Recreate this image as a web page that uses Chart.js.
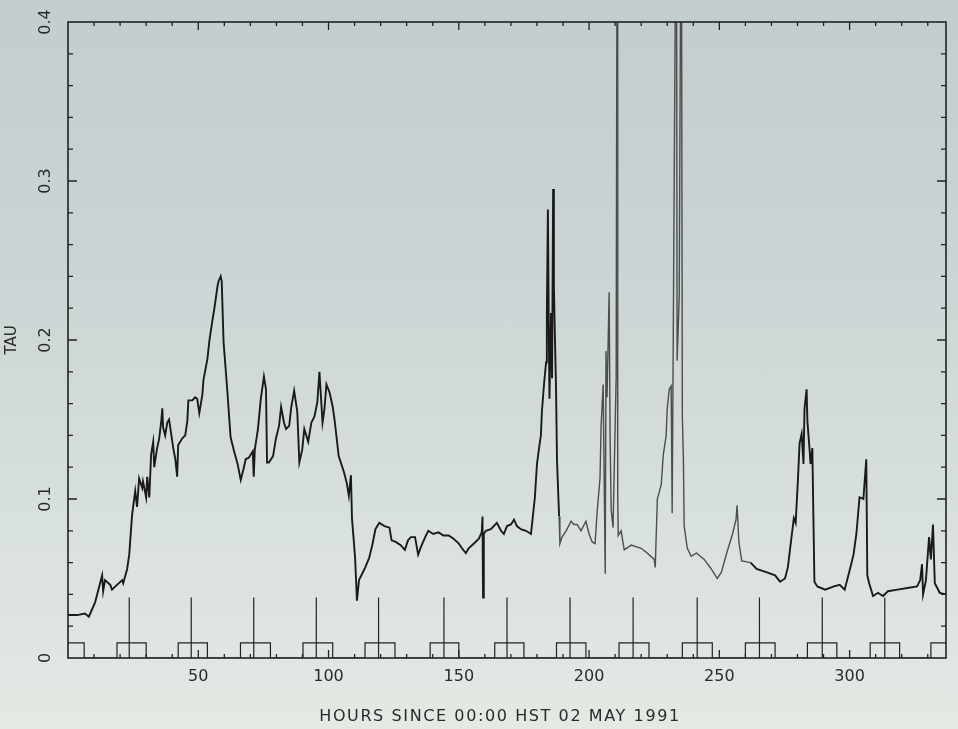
<!DOCTYPE html>
<html>
<head>
<meta charset="utf-8">
<title>TAU</title>
<script src="https://cdn.jsdelivr.net/npm/chart.js@4.4.0/dist/chart.umd.min.js"></script>
<style>
  html, body { margin: 0; padding: 0; }
  body {
    width: 958px; height: 729px; overflow: hidden;
    background: linear-gradient(to bottom, #c3cdce 0%, #cad4d4 35%, #d8e0dd 70%, #e4e9e4 100%);
  }
  #wrap { position: relative; width: 958px; height: 729px; }
</style>
</head>
<body>
<div id="wrap"><canvas id="tauChart"></canvas></div>
<script>
// opacity trace (hours since 00:00 HST 02 May 1991)
const hours = [
  0, 3.5, 6.5, 8.0, 10.4, 13.1, 13.5, 14.2, 16.2, 16.9,
  18.8, 20.8, 21.2, 22.7, 23.5, 24.6, 25.8, 26.5, 27.3, 28.5,
  28.8, 30.0, 30.4, 31.2, 31.9, 32.7, 33.1, 34.2, 35.0, 35.8,
  36.2, 36.5, 37.3, 38.1, 38.8, 39.6, 40.4, 41.2, 41.9, 42.3,
  43.8, 45.0, 45.8, 46.2, 47.7, 48.8, 49.6, 50.4, 51.6, 52.0,
  53.5, 54.3, 55.4, 56.2, 57.4, 57.8, 58.6, 59.0, 59.7, 61.2,
  62.4, 63.6, 65.1, 66.3, 67.4, 68.2, 69.4, 70.9, 71.3, 71.7,
  72.9, 74.0, 75.2, 76.0, 76.4, 77.1, 78.7, 79.8, 81.0, 81.8,
  82.9, 83.7, 84.9, 85.7, 86.8, 88.0, 88.8, 89.9, 90.7, 92.2,
  93.4, 94.6, 95.7, 96.5, 97.7, 98.4, 99.2, 100.4, 101.6, 102.3,
  103.9, 105.9, 107.0, 107.8, 108.6,
  109.0, 110.2, 110.9, 111.7, 112.9, 114.1, 115.6, 116.8, 118.0, 119.5,
  121.5, 123.4, 124.2, 125.8, 127.7, 129.3, 130.5, 131.6, 133.2, 134.4,
  135.5, 137.1, 138.3, 140.2, 142.2, 144.1, 146.1, 148.0, 150.0, 151.2,
  152.7, 153.8, 155.8, 157.7, 158.8, 159.1, 159.3, 159.6, 160.4, 162.3,
  164.6, 166.2, 167.3, 168.5, 170.0, 171.2, 172.3, 173.8, 175.8, 177.7,
  178.1, 179.2, 180.0, 180.8, 181.5, 181.9, 182.7, 183.5, 183.8, 184.2,
  184.6, 184.8, 185.4, 185.8, 186.2, 186.5, 186.9, 187.3, 187.7, 188.5,
  188.8, 189.6, 191.2, 193.1, 194.2, 195.4, 196.9, 198.8, 200.0, 201.2,
  202.3, 203.1, 204.2, 204.6, 205.4, 206.2, 206.5, 206.9, 207.7, 208.1,
  208.5, 209.2, 210.4, 210.8, 211.0, 211.2, 212.3, 213.5,
  216.2, 220.0, 222.3, 225.0, 225.4, 226.2, 227.7, 228.5, 229.6, 230.0,
  230.8, 231.5, 231.9, 233.5, 233.8, 234.6, 235.4, 235.8, 236.2, 236.5,
  237.7, 239.2, 241.2,
  244.2, 246.9, 249.2, 250.8, 253.0, 254.9, 256.4, 256.8, 257.5, 258.6,
  262.0, 264.3, 268.0, 271.4, 273.3, 275.2, 276.3, 277.4, 278.6, 279.3,
  280.1, 280.8, 281.6, 282.3, 282.7, 283.5, 283.8, 284.6, 285.0, 285.7,
  286.1, 286.5, 287.6, 290.6, 294.0, 296.2, 298.1, 300.0, 301.5, 302.6,
  303.8, 305.3, 305.6, 306.4, 306.8, 307.5, 309.0, 310.9, 312.8, 314.7,
  318.4, 322.2, 325.9, 327.1, 327.8, 328.2, 329.3, 330.5, 331.2, 332.0,
  332.7, 334.6, 337.0
];
const tau = [
  0.027, 0.027, 0.028, 0.026, 0.035, 0.052, 0.042, 0.049, 0.046, 0.043,
  0.046, 0.049, 0.047, 0.056, 0.065, 0.090, 0.105, 0.095, 0.113, 0.107,
  0.111, 0.101, 0.114, 0.101, 0.128, 0.136, 0.120, 0.132, 0.138, 0.149,
  0.157, 0.145, 0.140, 0.148, 0.150, 0.141, 0.132, 0.125, 0.114, 0.134,
  0.138, 0.140, 0.149, 0.162, 0.162, 0.164, 0.163, 0.154, 0.166, 0.175,
  0.188, 0.200, 0.212, 0.220, 0.234, 0.237, 0.240, 0.237, 0.199, 0.167,
  0.139, 0.131, 0.122, 0.112, 0.119, 0.125, 0.126, 0.130, 0.114, 0.131,
  0.144, 0.163, 0.177, 0.169, 0.123, 0.123, 0.127, 0.138, 0.146, 0.158,
  0.148, 0.144, 0.146, 0.158, 0.168, 0.155, 0.123, 0.131, 0.144, 0.136,
  0.148, 0.152, 0.161, 0.180, 0.148, 0.156, 0.172, 0.167, 0.158, 0.150,
  0.127, 0.117, 0.110, 0.102, 0.115,
  0.088, 0.063, 0.036, 0.049, 0.053, 0.057, 0.063, 0.071, 0.081, 0.085,
  0.083, 0.082, 0.074, 0.073, 0.071, 0.068, 0.074, 0.076, 0.076, 0.065,
  0.070, 0.076, 0.080, 0.078, 0.079, 0.077, 0.077, 0.075, 0.072, 0.069,
  0.066, 0.069, 0.072, 0.075, 0.079, 0.089, 0.038, 0.078, 0.080, 0.081,
  0.085, 0.080, 0.078, 0.083, 0.084, 0.087, 0.083, 0.081, 0.080, 0.078,
  0.084, 0.101, 0.122, 0.132, 0.140, 0.155, 0.172, 0.186, 0.217, 0.282,
  0.196, 0.163, 0.217, 0.176, 0.295, 0.234, 0.201, 0.172, 0.124, 0.089,
  0.072, 0.076, 0.080, 0.086, 0.084, 0.084, 0.080, 0.086, 0.078, 0.073,
  0.072, 0.092, 0.113, 0.145, 0.172, 0.053, 0.193, 0.164, 0.230, 0.135,
  0.093, 0.082, 0.177, 0.520, 0.102, 0.077, 0.080, 0.068,
  0.071, 0.069, 0.066, 0.062, 0.057, 0.100, 0.109, 0.128, 0.140, 0.157,
  0.169, 0.171, 0.091, 0.520, 0.187, 0.227, 0.520, 0.152, 0.126, 0.083,
  0.069, 0.064, 0.066,
  0.062, 0.056, 0.050, 0.054, 0.067, 0.077, 0.087, 0.096, 0.073, 0.061,
  0.060, 0.056, 0.054, 0.052, 0.048, 0.050, 0.057, 0.072, 0.088, 0.085,
  0.110, 0.135, 0.141, 0.122, 0.157, 0.169, 0.149, 0.132, 0.122, 0.132,
  0.089, 0.048, 0.045, 0.043, 0.045, 0.046, 0.043, 0.055, 0.065, 0.078,
  0.101, 0.100, 0.107, 0.125, 0.052, 0.047, 0.039, 0.041, 0.039, 0.042,
  0.043, 0.044, 0.045, 0.049, 0.059, 0.040, 0.049, 0.076, 0.062, 0.084,
  0.047, 0.041, 0.040
];

// daily marker boxes along the bottom (hours)
const boxStart = [-5, 18.8, 42.3, 66.2, 90.2, 114, 139, 163.8, 187.5, 211.5, 235.8, 260, 283.8, 307.9, 331.2];
const boxEnd   = [6.2, 30, 53.5, 77.7, 101.6, 125.5, 150, 175, 198.8, 223, 247.3, 271.4, 295.1, 319.2, 342.5];
const markHour = [null, 23.5, 47.3, 71.3, 95.3, 119.2, 144.3, 168.5, 192.7, 216.9, 241.5, 265.4, 289.5, 313.5, null];
const boxTop = 0.0095;
const markTop = 0.038;

const xMin = 0, xMax = 337;
const xTickValues = [50, 100, 150, 200, 250, 300];
const yTickValues = [0, 0.1, 0.2, 0.3, 0.4];
const yTickLabels = ['0', '0.1', '0.2', '0.3', '0.4'];
const xTitle = 'HOURS SINCE 00:00 HST 02 MAY 1991';
const yTitle = 'TAU';

const ink = '#222';

const tauPoints = hours.map((h, i) => ({ x: h, y: tau[i] }));

const boxPoints = [];
boxStart.forEach((s, i) => {
  const e = boxEnd[i], m = markHour[i];
  boxPoints.push({ x: s, y: 0 }, { x: s, y: boxTop });
  if (m !== null) {
    boxPoints.push({ x: m, y: boxTop }, { x: m, y: markTop }, { x: m, y: 0 }, { x: m, y: boxTop });
  }
  boxPoints.push({ x: e, y: boxTop }, { x: e, y: 0 });
});

// frame with inward ticks, rotated y labels and the spaced x title
const framePlugin = {
  id: 'frame',
  afterDatasetsDraw(chart) {
    const { ctx, chartArea: a, scales: { x, y } } = chart;
    ctx.save();
    ctx.strokeStyle = ink;
    ctx.lineWidth = 1.6;
    ctx.strokeRect(a.left, a.top, a.right - a.left, a.bottom - a.top);

    ctx.lineWidth = 1.3;
    ctx.beginPath();
    for (let h = 10; h < xMax; h += 10) {
      const px = x.getPixelForValue(h);
      const len = h % 50 === 0 ? 8 : 4;
      ctx.moveTo(px, a.bottom); ctx.lineTo(px, a.bottom - len);
      ctx.moveTo(px, a.top); ctx.lineTo(px, a.top + len);
    }
    for (let i = 1; i < 20; i++) {
      const py = y.getPixelForValue(i * 0.02);
      const len = i % 5 === 0 ? 9 : 5;
      ctx.moveTo(a.left, py); ctx.lineTo(a.left + len, py);
      ctx.moveTo(a.right, py); ctx.lineTo(a.right - len, py);
    }
    ctx.stroke();

    ctx.fillStyle = '#2a2a2a';
    ctx.font = '16px "DejaVu Sans"';
    ctx.textAlign = 'center';
    ctx.textBaseline = 'middle';
    yTickValues.forEach((v, i) => {
      ctx.save();
      ctx.translate(46, y.getPixelForValue(v));
      ctx.rotate(-Math.PI / 2);
      ctx.fillText(yTickLabels[i], 0, 0);
      ctx.restore();
    });

    ctx.letterSpacing = '1.6px';
    ctx.fillText(xTitle, 500, 717);
    ctx.restore();
  }
};

new Chart(document.getElementById('tauChart'), {
  type: 'line',
  data: {
    datasets: [
      {
        label: 'TAU',
        data: tauPoints,
        borderColor: '#1a1a1a',
        borderWidth: 1.9,
        pointRadius: 0,
        tension: 0,
        segment: {
          borderColor: c => (c.p0.parsed.x > 188 && c.p0.parsed.x < 262) ? '#4d4d4d' : undefined,
          borderWidth: c => (c.p0.parsed.x > 188 && c.p0.parsed.x < 262) ? 1.4 : undefined
        }
      },
      {
        label: 'markers',
        data: boxPoints,
        borderColor: ink,
        borderWidth: 1.2,
        pointRadius: 0,
        tension: 0
      }
    ]
  },
  options: {
    responsive: true,
    maintainAspectRatio: false,
    animation: false,
    layout: { padding: { top: 22, right: 12, left: 0, bottom: 0 } },
    plugins: {
      legend: { display: false },
      tooltip: { enabled: false }
    },
    scales: {
      x: {
        type: 'linear',
        min: xMin,
        max: xMax,
        grid: { display: false, drawTicks: false },
        border: { display: false },
        afterBuildTicks: s => { s.ticks = xTickValues.map(v => ({ value: v })); },
        afterFit: s => { s.height = 71; },
        ticks: {
          color: '#2a2a2a',
          font: { family: 'DejaVu Sans', size: 16 },
          padding: 9,
          maxRotation: 0,
          autoSkip: false
        }
      },
      y: {
        min: 0,
        max: 0.4,
        grid: { display: false, drawTicks: false },
        border: { display: false },
        afterFit: s => { s.width = 68; },
        ticks: { display: false },
        title: {
          display: true,
          text: yTitle,
          color: '#2a2a2a',
          font: { family: 'DejaVu Sans', size: 15 },
          padding: { top: 3, bottom: 0 }
        }
      }
    }
  },
  plugins: [framePlugin]
});
</script>
</body>
</html>
